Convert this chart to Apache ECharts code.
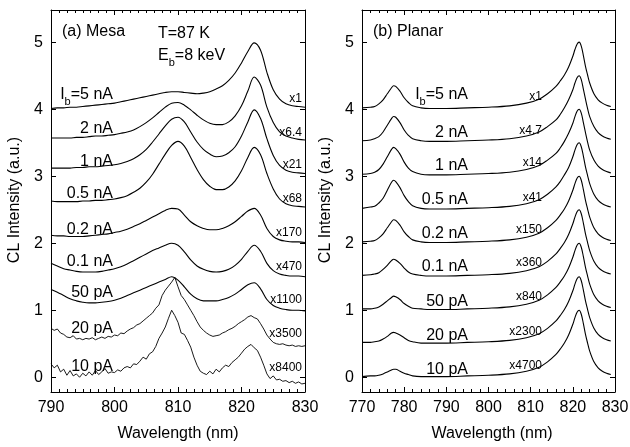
<!DOCTYPE html>
<html><head><meta charset="utf-8">
<script src="https://cdn.jsdelivr.net/npm/echarts@6/dist/echarts.min.js"></script>
<style>html,body{margin:0;padding:0;background:#fff}#c{width:630px;height:447px}</style>
</head><body><div id="c"></div>
<script>
// ---------- Data ----------
const mesaX = [790,791,792,793,794,795,796,797,798,799,800,801,802,803,804,805,806,807,808,809,810,811,812,813,814,815,816,817,818,819,820,821,822,823,824,825,826,827,828,829,830];
const mesaNoisyX = [790,790.5,791,791.5,792,792.5,793,793.5,794,794.5,795,795.5,796,796.5,797,797.5,798,798.5,799,799.5,800,800.5,801,801.5,802,802.5,803,803.5,804,804.5,805,805.5,806,806.5,807,807.5,808,808.5,809,809.5,810,810.5,811,811.5,812,812.5,813,813.5,814,814.5,815,815.5,816,816.5,817,817.5,818,818.5,819,819.5,820,820.5,821,821.5,822,822.5,823,823.5,824,824.5,825,825.5,826,826.5,827,827.5,828,828.5,829,829.5,830];

const mesa5nA  = [4.01,4.02,4.02,4.03,4.03,4.04,4.05,4.06,4.07,4.08,4.09,4.11,4.13,4.15,4.17,4.19,4.21,4.23,4.25,4.26,4.26,4.25,4.24,4.23,4.24,4.26,4.30,4.35,4.43,4.54,4.69,4.86,4.99,4.88,4.55,4.29,4.15,4.08,4.05,4.04,4.03];
const mesa2nA  = [3.57,3.57,3.57,3.57,3.58,3.58,3.59,3.60,3.60,3.61,3.62,3.64,3.66,3.69,3.74,3.80,3.87,3.95,4.03,4.09,4.10,4.06,3.99,3.91,3.84,3.79,3.77,3.77,3.81,3.90,4.05,4.27,4.48,4.36,4.03,3.80,3.66,3.60,3.57,3.55,3.54];
const mesa1nA  = [3.12,3.12,3.12,3.12,3.13,3.13,3.14,3.14,3.15,3.16,3.17,3.19,3.22,3.26,3.32,3.40,3.51,3.63,3.75,3.85,3.88,3.81,3.66,3.51,3.40,3.33,3.29,3.30,3.35,3.44,3.60,3.81,3.99,3.86,3.56,3.31,3.16,3.09,3.06,3.05,3.04];
const mesa05nA = [2.63,2.62,2.62,2.62,2.62,2.63,2.63,2.64,2.64,2.65,2.66,2.68,2.71,2.76,2.82,2.91,3.03,3.18,3.33,3.46,3.52,3.45,3.28,3.10,2.95,2.85,2.80,2.80,2.84,2.93,3.08,3.28,3.43,3.32,3.04,2.81,2.66,2.59,2.56,2.55,2.54];
const mesa02nA = [2.12,2.11,2.11,2.10,2.10,2.10,2.11,2.12,2.13,2.14,2.16,2.18,2.21,2.25,2.29,2.34,2.39,2.44,2.49,2.52,2.51,2.42,2.32,2.26,2.22,2.20,2.20,2.22,2.26,2.32,2.40,2.48,2.52,2.42,2.22,2.10,2.05,2.03,2.02,2.02,2.01];
const mesa01nA = [1.70,1.66,1.62,1.60,1.58,1.57,1.57,1.57,1.58,1.60,1.62,1.65,1.69,1.74,1.79,1.84,1.89,1.93,1.97,2.00,1.97,1.87,1.75,1.66,1.61,1.58,1.57,1.58,1.61,1.67,1.76,1.88,1.97,1.88,1.70,1.59,1.54,1.52,1.51,1.51,1.50];
const mesa50pA = [1.31,1.27,1.22,1.17,1.14,1.12,1.11,1.11,1.12,1.13,1.15,1.18,1.22,1.26,1.30,1.34,1.38,1.42,1.46,1.50,1.45,1.35,1.24,1.17,1.14,1.14,1.14,1.16,1.19,1.24,1.31,1.38,1.41,1.32,1.16,1.07,1.03,1.01,1.00,1.00,0.99];
const mesa20pA = [0.73,0.70,0.72,0.66,0.64,0.60,0.59,0.62,0.57,0.58, 0.56,0.58,0.57,0.59,0.56,0.58,0.60,0.58,0.61,0.60, 0.63,0.62,0.66,0.65,0.69,0.72,0.74,0.78,0.80,0.84, 0.88,0.92,0.96,1.03,1.08,1.22,1.30,1.36,1.42,1.49, 1.35,1.22,1.16,1.08,1.00,0.92,0.83,0.75,0.70,0.66, 0.63,0.61,0.62,0.63,0.66,0.68,0.71,0.73,0.76,0.80, 0.83,0.86,0.90,0.92,0.89,0.87,0.80,0.72,0.63,0.57, 0.52,0.50,0.49,0.50,0.48,0.47,0.48,0.46,0.47,0.46, 0.47];
const mesa10pA = [0.20,0.14,0.18,0.08,0.12,0.03,0.10,0.02,0.05,0.00, 0.06,0.02,0.08,0.03,0.10,0.04,0.08,0.13,0.06,0.08, 0.07,0.11,0.09,0.14,0.16,0.14,0.20,0.19,0.24,0.30, 0.27,0.35,0.38,0.46,0.58,0.66,0.75,0.88,1.00,0.92, 0.82,0.66,0.64,0.55,0.45,0.30,0.18,0.09,0.06,0.04, 0.09,0.05,0.12,0.08,0.14,0.18,0.16,0.22,0.26,0.30, 0.36,0.42,0.46,0.49,0.44,0.40,0.30,0.18,0.05,-0.02, 0.02,-0.04,-0.03,-0.06,-0.05,-0.08,-0.06,-0.09,-0.07,-0.10, -0.09];

const planarX = [770,772,773,774,775,776,777,777.5,778,779,780,781,782,784,786,790,795,800,805,809,812,814,816,817,818,819,820,820.5,821,821.5,822,822.5,823,823.5,824,825,826,827,828,829];
const planar5nA  = [4.02,4.03,4.04,4.08,4.14,4.23,4.32,4.35,4.34,4.27,4.17,4.10,4.05,4.02,4.01,4.01,4.02,4.03,4.05,4.09,4.15,4.23,4.34,4.42,4.51,4.63,4.79,4.89,4.97,5.00,4.94,4.80,4.64,4.51,4.39,4.23,4.14,4.09,4.06,4.04];
const planar2nA  = [3.53,3.54,3.56,3.59,3.66,3.76,3.86,3.89,3.88,3.80,3.69,3.61,3.56,3.53,3.52,3.52,3.53,3.54,3.56,3.60,3.66,3.74,3.84,3.92,4.02,4.14,4.29,4.39,4.47,4.50,4.44,4.30,4.15,4.01,3.89,3.74,3.65,3.60,3.57,3.55];
const planar1nA  = [3.03,3.04,3.06,3.10,3.18,3.29,3.40,3.43,3.41,3.33,3.21,3.12,3.07,3.03,3.02,3.02,3.03,3.04,3.06,3.10,3.16,3.24,3.34,3.42,3.52,3.64,3.79,3.89,3.97,4.00,3.94,3.80,3.65,3.51,3.39,3.24,3.15,3.10,3.07,3.05];
const planar05nA = [2.52,2.54,2.55,2.60,2.67,2.79,2.91,2.94,2.92,2.83,2.71,2.62,2.56,2.52,2.51,2.51,2.52,2.53,2.55,2.59,2.65,2.73,2.84,2.92,3.02,3.13,3.29,3.39,3.47,3.50,3.44,3.30,3.14,3.01,2.89,2.73,2.64,2.59,2.56,2.54];
const planar02nA = [2.02,2.03,2.04,2.08,2.14,2.23,2.32,2.35,2.34,2.27,2.17,2.10,2.05,2.02,2.01,2.01,2.02,2.03,2.05,2.09,2.15,2.23,2.34,2.42,2.51,2.63,2.79,2.89,2.97,3.00,2.94,2.80,2.64,2.51,2.39,2.23,2.14,2.09,2.06,2.04];
const planar01nA = [1.52,1.53,1.54,1.56,1.61,1.67,1.74,1.76,1.75,1.70,1.63,1.57,1.54,1.52,1.51,1.51,1.52,1.53,1.55,1.59,1.65,1.73,1.84,1.92,2.01,2.13,2.29,2.39,2.47,2.50,2.44,2.30,2.14,2.01,1.89,1.73,1.64,1.59,1.56,1.54];
const planar50pA = [1.02,1.02,1.03,1.05,1.09,1.14,1.19,1.21,1.20,1.16,1.10,1.06,1.03,1.02,1.01,1.01,1.02,1.03,1.05,1.09,1.15,1.23,1.34,1.42,1.51,1.63,1.79,1.89,1.97,2.00,1.94,1.80,1.64,1.51,1.39,1.23,1.14,1.09,1.06,1.04];
const planar20pA = [0.52,0.52,0.53,0.54,0.57,0.61,0.66,0.67,0.66,0.63,0.59,0.55,0.53,0.51,0.51,0.51,0.52,0.53,0.55,0.59,0.65,0.73,0.84,0.92,1.01,1.13,1.29,1.39,1.47,1.50,1.44,1.30,1.14,1.01,0.89,0.73,0.64,0.59,0.56,0.54];
const planar10pA = [0.01,0.02,0.02,0.03,0.05,0.08,0.11,0.12,0.12,0.09,0.06,0.04,0.02,0.01,0.01,0.01,0.02,0.03,0.05,0.09,0.15,0.23,0.34,0.42,0.51,0.63,0.79,0.89,0.97,1.00,0.94,0.80,0.64,0.51,0.39,0.23,0.14,0.09,0.06,0.04];

const currentLabels = ['I_b=5 nA','2 nA','1 nA','0.5 nA','0.2 nA','0.1 nA','50 pA','20 pA','10 pA'];
const mesaScales   = ['x1','x6.4','x21','x68','x170','x470','x1100','x3500','x8400'];
const planarScales = ['x1','x4.7','x14','x41','x150','x360','x840','x2300','x4700'];
const yTicks = [0,1,2,3,4,5];

// ---------- Chart ----------
const FONT = '"Liberation Sans", Arial, Helvetica, sans-serif';
const chart = echarts.init(document.getElementById('c'), null, {renderer:'canvas'});

const mesaSmooth = [mesa5nA,mesa2nA,mesa1nA,mesa05nA,mesa02nA,mesa01nA,mesa50pA];
const mesaNoisy = [mesa20pA,mesa10pA];
const planarAll = [planar5nA,planar2nA,planar1nA,planar05nA,planar02nA,planar01nA,planar50pA,planar20pA,planar10pA];

const lineStyle = {color:'#000', width:1.1};
const series = [];
mesaSmooth.forEach(ys => series.push({type:'line', xAxisIndex:0, yAxisIndex:0, showSymbol:false, smooth:0.35, lineStyle, data: mesaX.map((x,i)=>[x,ys[i]]), silent:true, animation:false}));
mesaNoisy.forEach(ys => series.push({type:'line', xAxisIndex:0, yAxisIndex:0, showSymbol:false, smooth:false, lineStyle:{color:'#000',width:0.9}, data: mesaNoisyX.map((x,i)=>[x,ys[i]]), silent:true, animation:false}));
planarAll.forEach(ys => series.push({type:'line', xAxisIndex:2, yAxisIndex:2, showSymbol:false, smooth:0.35, lineStyle, data: planarX.map((x,i)=>[x,ys[i]]), silent:true, animation:false}));

function xAx(grid, min, max, top, minorSplit){
  return {gridIndex:grid, type:'value', min, max, interval:10, position: top?'top':'bottom',
    axisLine:{show:true, onZero:false, lineStyle:{color:'#000', width:1}},
    axisTick:{show:true, inside:true, length:5, lineStyle:{color:'#000'}},
    minorTick:{show:true, splitNumber:minorSplit, length:3, lineStyle:{color:'#000'}},
    axisLabel:{show:!top, color:'#000', fontSize:16, fontFamily:FONT, margin:8, showMinLabel:true, showMaxLabel:true},
    splitLine:{show:false}, minorSplitLine:{show:false}};
}
function yAx(grid, right){
  return {gridIndex:grid, type:'value', min:-0.22, max:5.48, position: right?'right':'left',
    axisLine:{show:true, onZero:false, lineStyle:{color:'#000', width:1}},
    axisTick:{show:true, inside:true, length:5, customValues:yTicks, lineStyle:{color:'#000'}},
    axisLabel:{show:!right, customValues:yTicks, color:'#000', fontSize:16, fontFamily:FONT, margin:8},
    splitLine:{show:false}};
}

const graphics = [];
function txt(x, y, text, size, align, extra){
  graphics.push(Object.assign({type:'text', x, y, silent:true,
    style:{text, fill:'#000', font: size+'px '+FONT, align, verticalAlign:'middle'}}, extra||{}));
}
function subTxt(x, y, main, sub, rest, align){
  graphics.push({type:'text', x, y, silent:true, style:{
    text:'{m|'+main+'}{s|'+sub+'}{m|'+rest+'}', align, verticalAlign:'middle', fill:'#000',
    rich:{m:{fontSize:16, fontFamily:FONT, lineHeight:24, fill:'#000'},
          s:{fontSize:11, fontFamily:FONT, lineHeight:11, verticalAlign:'bottom', fill:'#000'}}}});
}

// Mesa annotations
txt(62, 32, '(a) Mesa', 16, 'left');
txt(158, 34, 'T=87 K', 16, 'left');
subTxt(158, 56, 'E', 'b', '=8 keV', 'left');
const mesaLabelY = [95,129,162,194,230,262,293,329,367];
const mesaScaleY = [99,133,165,199,233,267,300,334,368];
currentLabels.forEach((t,i)=>{
  if (i===0) subTxt(113, mesaLabelY[i], 'I', 'b', '=5 nA', 'right');
  else txt(113, mesaLabelY[i], t, 16, 'right');
  txt(302, mesaScaleY[i], mesaScales[i], 12, 'right');
});
// Planar annotations
txt(373, 32, '(b) Planar', 16, 'left');
const planarLabelY = [95,133,166,200,234,267,302,336,370];
const planarScaleY = [97,131,163,198,230,263,297,332,366];
currentLabels.forEach((t,i)=>{
  if (i===0) subTxt(468, planarLabelY[i], 'I', 'b', '=5 nA', 'right');
  else txt(468, planarLabelY[i], t, 16, 'right');
  txt(542, planarScaleY[i], planarScales[i], 12, 'right');
});
// Axis titles
txt(178, 434, 'Wavelength (nm)', 16, 'center');
txt(492, 434, 'Wavelength (nm)', 16, 'center');
txt(15, 200, 'CL Intensity (a.u.)', 16, 'center', {rotation: Math.PI/2});
txt(326, 200, 'CL Intensity (a.u.)', 16, 'center', {rotation: Math.PI/2});

chart.setOption({
  animation:false,
  backgroundColor:'#fff',
  grid:[{left:51, top:10, width:254, height:382, outerBoundsMode:'none', containLabel:false},
        {left:362, top:10, width:253, height:382, outerBoundsMode:'none', containLabel:false}],
  xAxis:[xAx(0,790,830,false,8), xAx(0,790,830,true,8),
         xAx(1,770,830,false,5), xAx(1,770,830,true,5)],
  yAxis:[yAx(0,false), yAx(0,true), yAx(1,false), yAx(1,true)],
  series,
  graphic: graphics
});
</script>
</body></html>
